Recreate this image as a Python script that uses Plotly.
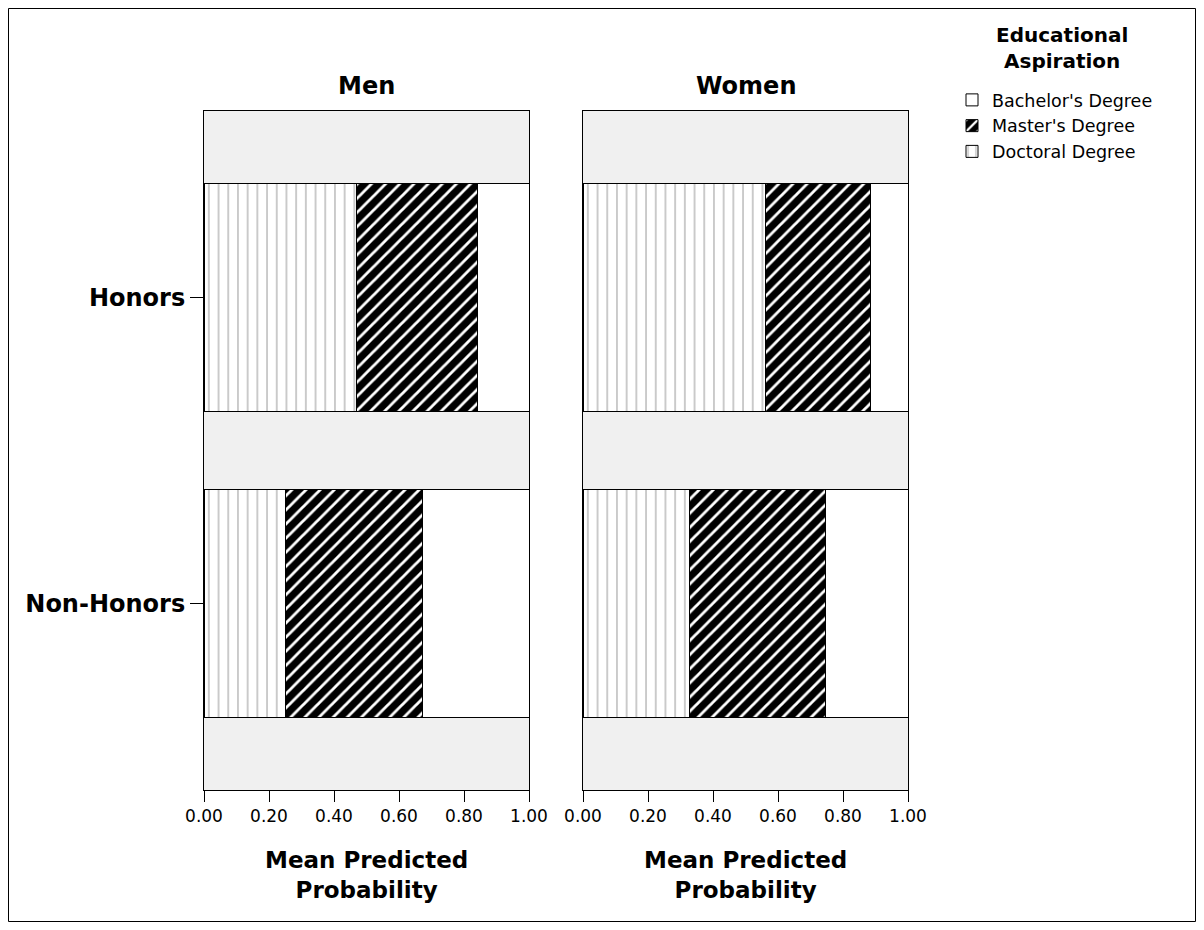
import plotly.graph_objects as go

W, H = 1188, 914
OFF = 8  # page body margin

groups = ["Non-Honors", "Honors"]
panels = ["Men", "Women"]
series_names = ["Doctoral Degree", "Master's Degree", "Bachelor's Degree"]

# mean predicted probabilities, order of groups: Non-Honors, Honors
men_doctoral = [0.251, 0.469]
men_masters = [0.421, 0.373]
men_bachelors = [0.328, 0.158]
women_doctoral = [0.328, 0.562]
women_masters = [0.418, 0.323]
women_bachelors = [0.254, 0.115]

tick_vals = [0, 0.2, 0.4, 0.6, 0.8, 1.0]
tick_text = ["0.00", "0.20", "0.40", "0.60", "0.80", "1.00"]

styles = {
    "Doctoral Degree": dict(color="white", line=dict(color="black", width=1),
                            pattern=dict(shape="|", fgcolor="#bdbdbd", bgcolor="white",
                                         fillmode="replace", size=9.7, solidity=0.16)),
    "Master's Degree": dict(color="black", line=dict(color="black", width=1),
                            pattern=dict(shape="/", fgcolor="white", bgcolor="black",
                                         fillmode="replace", size=10, solidity=0.28)),
    "Bachelor's Degree": dict(color="white", line=dict(color="black", width=1)),
}

data = {
    "Men": {"Doctoral Degree": men_doctoral, "Master's Degree": men_masters,
            "Bachelor's Degree": men_bachelors},
    "Women": {"Doctoral Degree": women_doctoral, "Master's Degree": women_masters,
              "Bachelor's Degree": women_bachelors},
}

fig = go.Figure()
for i, panel in enumerate(panels):
    xa = "x" if i == 0 else "x2"
    ya = "y" if i == 0 else "y2"
    for name in series_names:
        fig.add_trace(go.Bar(
            x=data[panel][name], y=groups, orientation="h",
            name=name, legendgroup=name, showlegend=(i == 0),
            marker=styles[name], width=0.748,
            xaxis=xa, yaxis=ya,
        ))

def px_x(p):
    return (p - OFF) / W

def px_y(p):
    return 1 - (p - OFF) / H

x1dom = [px_x(204), px_x(529)]
x2dom = [px_x(583), px_x(908)]
ydom = [px_y(790), px_y(111)]

FONT = "DejaVu Sans"

xaxis_common = dict(range=[0, 1], tickvals=tick_vals, ticktext=tick_text,
                    showgrid=False, zeroline=False, showline=True, mirror=True,
                    linecolor="black", linewidth=1, ticks="outside", ticklen=11,
                    tickcolor="black", tickfont=dict(family=FONT, size=17, color="black"),
                    fixedrange=True, automargin=False)
yaxis_common = dict(type="category", categoryorder="array", categoryarray=groups,
                    range=[-0.61, 1.61], domain=ydom, showgrid=False, zeroline=False,
                    showline=True, mirror=True, linecolor="black", linewidth=1,
                    automargin=False, fixedrange=True)

fig.update_layout(
    width=W, height=H,
    margin=dict(l=0, r=0, t=0, b=0, pad=0, autoexpand=False),
    paper_bgcolor="white", plot_bgcolor="#F0F0F0",
    barmode="stack",
    xaxis=dict(domain=x1dom, anchor="y", **xaxis_common),
    xaxis2=dict(domain=x2dom, anchor="y2", **xaxis_common),
    yaxis=dict(anchor="x", ticks="outside", ticklen=13, tickcolor="black",
               tickfont=dict(family=FONT, size=24, color="black", weight="bold"),
               **yaxis_common),
    yaxis2=dict(anchor="x2", matches="y", showticklabels=False, ticks="", **yaxis_common),
    legend=dict(
        x=px_x(952), y=px_y(82), xanchor="left", yanchor="top",
        traceorder="reversed", bgcolor="rgba(0,0,0,0)",
        font=dict(family=FONT, size=17.5, color="black"),
        itemwidth=30, tracegroupgap=0,
    ),
    showlegend=True,
)

# legend title
fig.add_annotation(x=px_x(1062), y=px_y(48), xref="paper", yref="paper",
                   text="Educational<br>Aspiration", showarrow=False,
                   xanchor="center", yanchor="middle", align="center",
                   font=dict(family=FONT, size=20, color="black", weight="bold"))

# panel titles and axis titles
for dom, text in [(x1dom, "Men"), (x2dom, "Women")]:
    cx = (dom[0] + dom[1]) / 2
    fig.add_annotation(x=cx, y=px_y(86), xref="paper", yref="paper", text=text,
                       showarrow=False, xanchor="center", yanchor="middle",
                       font=dict(family=FONT, size=24, color="black", weight="bold"))
    fig.add_annotation(x=cx, y=px_y(875), xref="paper", yref="paper",
                       text="Mean Predicted<br>Probability", align="center",
                       showarrow=False, xanchor="center", yanchor="middle",
                       font=dict(family=FONT, size=23, color="black", weight="bold"))

# outer frame
fig.add_shape(type="rect", xref="paper", yref="paper",
              x0=0.5 / W, x1=1 - 0.5 / W, y0=0.5 / H, y1=1 - 0.5 / H,
              line=dict(color="black", width=1), fillcolor="rgba(0,0,0,0)", layer="below")

fig.write_html("out.html")
